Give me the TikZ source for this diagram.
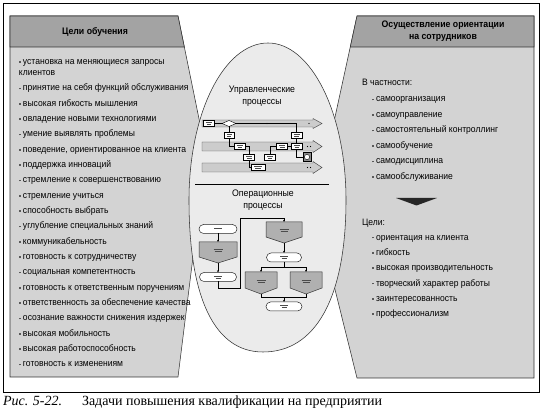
\documentclass[tikz,border=0pt]{standalone}
\usepackage{fontspec}
\setmainfont{Liberation Sans}[FakeStretch=0.92]
\newfontfamily\capfont{Liberation Serif}
\usetikzlibrary{shapes.geometric,arrows.meta}
\definecolor{hdr}{HTML}{A3A3A3}
\definecolor{bdy}{HTML}{D3D3D3}
\definecolor{ellc}{HTML}{EBEBEB}
\definecolor{boxg}{HTML}{B0B0B0}
\definecolor{barg}{HTML}{CCCCCC}
\newcommand\bul{\raisebox{1.6pt}{\textcolor{black!65}{\rule{1.7pt}{1.7pt}}}\hspace{2.3pt}}
\newcommand\fk[2]{\textcolor{black!70}{\rule{#1}{0.5pt}}\\\textcolor{black!70}{\rule{#2}{0.5pt}}}
\newcommand\gpent[5]{%
  \draw[gp] ({#2-#4},#3) -- ({#2+#4},#3) -- ({#2+#4},{#3+#5}) -- (#2,{#3+#5+6}) -- ({#2-#4},{#3+#5}) -- cycle;
  \coordinate (#1-t) at (#2,#3);
  \coordinate (#1-b) at (#2,{#3+#5+6});
  \node[font=\fontsize{1.8}{1.8}\selectfont,align=center] (#1-l) at (#2,{#3+#5/2+1}) {\fk{9pt}{7pt}};}
\begin{document}
\begin{tikzpicture}[x=1pt,y=-1pt,line join=miter,
  every node/.style={inner sep=0pt,outer sep=0pt},
  pan/.style={draw=black!80,line width=0.55pt},
  itm/.style={anchor=base west,font=\fontsize{9.3}{11}\selectfont},
  hd/.style={font=\bfseries\fontsize{9.5}{12}\selectfont,align=center},
  ttl/.style={font=\fontsize{9.5}{12}\selectfont,align=center},
  mb/.style={draw=black,line width=0.4pt,fill=white,minimum width=11pt,minimum height=6pt,font=\fontsize{1.8}{1.8}\selectfont,align=center},
  ln/.style={draw=black,line width=0.45pt},
  fa/.style={draw=black,line width=0.45pt,-{Stealth[length=2.2pt,width=2pt]}},
  term/.style={draw=black!85,line width=0.5pt,fill=white,rounded corners=4.5pt,minimum width=37pt,minimum height=9pt,font=\fontsize{1.8}{1.8}\selectfont,align=center},
  gp/.style={draw=black!80,line width=0.5pt,fill=boxg},
  bar/.style={draw=black!70,line width=0.45pt,fill=barg}]
\useasboundingbox (0,0) rectangle (544,419);
\fill[white] (0,0) rectangle (544,419);
% frame
\draw[line width=0.8pt] (3,3) rectangle (539,392);
% left panel
\draw[pan,fill=bdy] (10,16) -- (178,16) -- (206,153) -- (178,377) -- (10,377) -- cycle;
\draw[pan,fill=hdr] (10,16) -- (178,16) -- (184.3,47) -- (10,47) -- cycle;
% right panel
\draw[pan,fill=bdy] (357,16) -- (534,16) -- (534,378) -- (357,378) -- (315,209) -- cycle;
\draw[pan,fill=hdr] (357,16) -- (534,16) -- (534,47) -- (350.3,47) -- cycle;
% ellipse
\draw[pan,fill=ellc] (268,43) .. controls (224,43) and (189,113) .. (189,200)
  .. controls (189,299) and (215,352) .. (263,352)
  .. controls (315,352) and (346,299) .. (346,200)
  .. controls (346,113) and (311,43) .. (268,43) -- cycle;
% headers
\node[hd] (lh) at (95,32) {Цели обучения};
\node[hd] (rh) at (443,31) {Осуществление ориентации\\на сотрудников};
% left list
\node[itm] (L0a) at (19,64.5) {\bul установка на меняющиеся запросы};
\node[itm] (L0b) at (19,75.5) {клиентов};
\foreach \t [count=\i from 0] in {принятие на себя функций обслуживания,высокая гибкость мышления,овладение новыми технологиями,умение выявлять проблемы,{поведение, ориентированное на клиента},поддержка инноваций,стремление к совершенствованию,стремление учиться,способность выбрать,углубление специальных знаний,коммуникабельность,готовность к сотрудничеству,социальная компетентность,готовность к ответственным поручениям,ответственность за обеспечение качества,осознание важности снижения издержек,высокая мобильность,высокая работоспособность,готовность к изменениям}
  \node[itm] (L\i) at (19,{91+15.33*\i}) {\bul\t};
% right list
\node[itm] (R0) at (362,86) {В частности:};
\foreach \t [count=\i from 1] in {самоорганизация,самоуправление,самостоятельный контроллинг,самообучение,самодисциплина,самообслуживание}
  \node[itm] (R\i) at (372,{86.5+15.5*\i}) {\bul\t};
\fill[black!85] (396,198) -- (437,198) -- (416.5,205.5) -- cycle;
\node[itm] (S0) at (362,226) {Цели:};
\foreach \t [count=\i from 1] in {ориентация на клиента,гибкость,высокая производительность,творческий характер работы,заинтересованность,профессионализм}
  \node[itm] (S\i) at (372,{224.7+15.33*\i}) {\bul\t};
% ellipse titles
\node[ttl] (mt) at (262,96.5) {Управленческие\\процессы};
\node[ttl] (ot) at (263,200) {Операционные\\процессы};
\draw[line width=0.6pt] (195,184.5) -- (329,184.5);
% management bars
\foreach \c/\h in {123.5/3.5,146.5/4.5,167.5/4.5}
  \draw[bar] (202,{\c-\h}) -- (313,{\c-\h}) -- (313,{\c-\h-1.5}) -- (322,\c) -- (313,{\c+\h+1.5}) -- (313,{\c+\h}) -- (202,{\c+\h}) -- cycle;
\fill (309,123.5) circle (0.6pt);
\fill (307.5,146.5) circle (0.6pt); \fill (310.5,146.5) circle (0.6pt);
\fill (307.5,167.5) circle (0.6pt); \fill (310.5,167.5) circle (0.6pt);
% management boxes
\node[mb] (mA) at (208.5,123.5) {\fk{6pt}{4pt}};
\node[draw=black,line width=0.4pt,fill=white,diamond,aspect=2.6,minimum width=14pt,minimum height=6pt] (mD) at (229,123.5) {};
\node[mb] (mB) at (296.5,135.5) {\fk{6pt}{5pt}};
\node[mb,minimum width=10pt] (mC) at (229,135.5) {\fk{5pt}{4pt}};
\node[mb] (mP) at (239.5,146.5) {\fk{6pt}{4pt}};
\node[mb] (mQ) at (282,146.5) {\fk{6pt}{5pt}};
\node[mb] (mR) at (296.5,146.5) {\fk{6pt}{4pt}};
\node[mb] (mS) at (249,157.5) {\fk{6pt}{5pt}};
\node[mb] (mT) at (270,157.5) {\fk{6pt}{4pt}};
\node[mb,minimum width=14pt] (mU) at (258,167.5) {\fk{8pt}{6pt}};
\node[draw=black,line width=0.4pt,fill=black!45,minimum width=8pt,minimum height=9pt] (mJ) at (307,157) {};
\draw[fill=white,line width=0.4pt] (mJ.center) circle (2.6pt);
\draw[ln] (mA) -- (mD);
\draw[ln] (mD.east) -| (mB.north);
\fill (267,123.5) circle (0.7pt);
\draw[ln] (mD.south) -- (mC.north);
\draw[ln] (mC.south) |- (mP.west);
\draw[ln] (mP.east) -| (mS.north);
\draw[ln] (mS.south) |- (mU.west);
\draw[ln] (mT.north) |- (mQ.west);
\draw[ln] (mQ) -- (mR);
\draw[ln] (mB) -- (mR);
\draw[ln] (mR.south) |- (mJ.west);
% operational flowchart
\node[term,minimum width=38pt] (T1) at (218,229) {\fk{8pt}{0pt}};
\gpent{G1}{218}{242}{19}{15}
\node[term] (T2) at (218,277) {\fk{8pt}{5pt}};
\gpent{G2}{284}{222}{18}{15}
\node[term,minimum width=35pt] (T3) at (284,257.5) {\fk{8pt}{5pt}};
\gpent{G3}{261}{272}{16}{16}
\gpent{G4}{306}{272}{16}{16}
\node[term,minimum width=36pt] (T4) at (284,306.5) {\fk{8pt}{5pt}};
\coordinate (k1) at (240,288);
\coordinate (k2) at (240,218);
\coordinate (br) at (284,267.5);
\coordinate (mg) at (284,297.5);
\draw[fa] (T1.south) -- (G1-t);
\draw[fa] (G1-b) -- (T2.north);
\draw[fa] (T2.south) |- (k1) -- (k2) -| (G2-t);
\draw[fa] (G2-b) -- (T3.north);
\draw[ln] (T3.south) -- (br);
\draw[fa] (br) -| (G3-t);
\draw[fa] (br) -| (G4-t);
\draw[ln] (G3-b) |- (mg);
\draw[ln] (G4-b) |- (mg);
\draw[fa] (mg) -- (T4.north);
% caption
\node[anchor=base west,font=\capfont\fontsize{14}{16}\selectfont] (cap1) at (3,405.5) {\textit{Рис. 5-22.}};
\node[anchor=base west,font=\capfont\fontsize{14}{16}\selectfont] (cap2) at (82,405.5) {Задачи повышения квалификации на предприятии};
\end{tikzpicture}
\end{document}
